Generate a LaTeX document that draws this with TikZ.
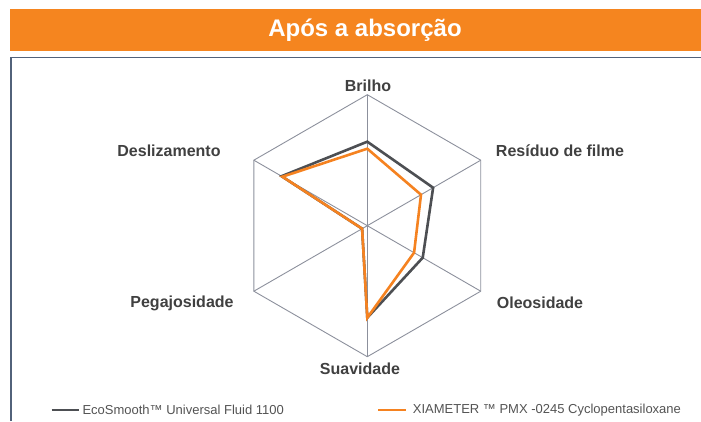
\documentclass[tikz,border=0pt]{standalone}
\usepackage{fontspec}
\setmainfont{Liberation Sans}
\newfontfamily\legfont{Liberation Sans}
\usetikzlibrary{calc}
\definecolor{barorange}{HTML}{F5851F}
\definecolor{lineorange}{HTML}{F58220}
\definecolor{linegray}{HTML}{4D4F53}
\definecolor{gridgray}{HTML}{8C909C}
\definecolor{framecol}{HTML}{52627A}
\definecolor{labelgray}{HTML}{404040}
\tikzset{
  gridline/.style={draw=gridgray, line width=0.9pt},
  axislabel/.style={font=\fontsize{16}{18}\selectfont\bfseries, text=labelgray, inner sep=0pt},
  seriesgray/.style={draw=linegray, line width=2.6pt, line join=miter},
  seriesorange/.style={draw=lineorange, line width=2.6pt, line join=miter},
  legtext/.style={font=\legfont\fontsize{13}{15}\selectfont, text=labelgray!90, inner sep=0pt, anchor=west},
}
\begin{document}
\begin{tikzpicture}[x=1pt,y=1pt]
\useasboundingbox (0,0) rectangle (701,421);
% title bar
\fill[barorange] (10,370) rectangle (701,412);
\node[font=\fontsize{24}{27}\selectfont\bfseries, text=white, inner sep=0pt] (title) at (365,391) {Após a absorção};
% frame
\draw[framecol, line width=1.6pt] (10.8,0) -- (10.8,363.5) -- (701,363.5);
% radar
\coordinate (c) at (367.3,195.3);
\begin{scope}[shift={(c)}]
  \foreach \n/\a in {1/90,2/30,3/-30,4/-90,5/-150,6/150}{
    \coordinate (v\n) at (\a:131);
  }
  % grey series
  \coordinate (g1) at (90:84);
  \coordinate (g2) at (30:76);
  \coordinate (g3) at (-30:64);
  \coordinate (g4) at (-90:92);
  \coordinate (g5) at (-150:6);
  \coordinate (g6) at (150:99);
  % orange series
  \coordinate (o1) at (90:77);
  \coordinate (o2) at (30:62);
  \coordinate (o3) at (-30:54);
  \coordinate (o4) at (-90:92);
  \coordinate (o5) at (-150:6);
  \coordinate (o6) at (150:98);
\end{scope}
\draw[gridline] (v1) -- (v2) -- (v3) -- (v4) -- (v5) -- (v6) -- cycle;
\foreach \n in {1,...,6}{ \draw[gridline] (c) -- (v\n); }
\draw[seriesgray] (g1) -- (g2) -- (g3) -- (g4) -- (g5) -- (g6) -- cycle;
\draw[seriesorange] (o1) -- (o2) -- (o3) -- (o4) -- (o5) -- (o6) -- cycle;
% axis labels
\node[axislabel] (lb1) at (368,335) {Brilho};
\node[axislabel] (lb2) at (560,270) {Resíduo de filme};
\node[axislabel] (lb3) at (540,118) {Oleosidade};
\node[axislabel] (lb4) at (360,52) {Suavidade};
\node[axislabel] (lb5) at (182,118) {Pegajosidade};
\node[axislabel] (lb6) at (169,270) {Deslizamento};
% legend
\coordinate (la1) at (51.7,11);
\coordinate (la2) at (79.3,11);
\coordinate (lb1s) at (378.3,11);
\coordinate (lb2s) at (405.7,11);
\draw[draw=linegray, line width=2pt] (la1) -- (la2);
\draw[draw=lineorange, line width=2pt] (lb1s) -- (lb2s);
\node[legtext] (leg1) at (82.3,11) {EcoSmooth™ Universal Fluid 1100};
\node[legtext] (leg2) at (412.7,11) {XIAMETER ™ PMX -0245 Cyclopentasiloxane};
\end{tikzpicture}
\end{document}
